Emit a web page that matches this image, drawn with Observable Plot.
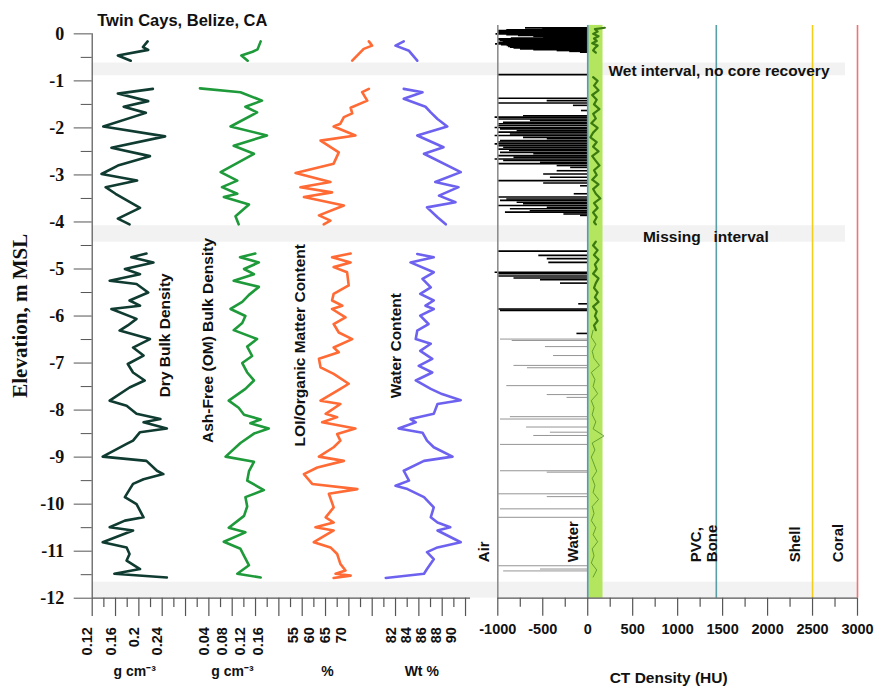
<!DOCTYPE html>
<html><head><meta charset="utf-8">
<script src="https://cdn.jsdelivr.net/npm/d3@7"></script>
<script src="https://cdn.jsdelivr.net/npm/@observablehq/plot@0.6"></script>
<style>
body{margin:0;background:#fff;}
#wrap{position:relative;width:874px;height:689px;overflow:hidden;background:#fff;}
#wrap svg{position:absolute;left:0;top:0;}
</style></head><body><div id="wrap"></div>
<script>
// ---------------- DATA ----------------
const title = "Twin Cays, Belize, CA";
// gray interval bands (elevation, m MSL)
const bandTop = [-0.62, -4.08];
const bandBottom = [-0.89, -4.43];
const coreBaseTop = [-11.66];
const coreBaseBottom = [-12];

const yMajorTicks = [0,-1,-2,-3,-4,-5,-6,-7,-8,-9,-10,-11,-12];
const yMinorTicks = [-0.5,-1.5,-2.5,-3.5,-4.5,-5.5,-6.5,-7.5,-8.5,-9.5,-10.5,-11.5];

// Dry bulk density (g cm-3)
const dryElev = [-0.16,-0.28,-0.34,-0.46,-0.57,null,
 -1.17,-1.27,-1.43,-1.55,-1.68,-1.97,-2.18,-2.42,-2.6,-2.8,-2.98,-3.12,-3.26,-3.4,-3.7,-3.93,-4.05,null,
 -4.67,-4.75,-4.86,-5.0,-5.11,-5.25,-5.32,-5.5,-5.67,-5.78,-5.85,-6.06,-6.2,-6.31,-6.49,-6.67,-6.84,-7.02,-7.2,-7.37,
 -7.52,-7.8,-7.91,-8.08,-8.19,-8.26,-8.39,-8.47,-8.65,-8.72,-8.99,-9.08,-9.29,-9.36,-9.47,-9.57,-9.85,-10.0,-10.28,-10.35,
 -10.49,-10.56,-10.81,-10.92,-11.06,-11.2,-11.38,-11.48,-11.56];
const dryDensity = [0.215,0.207,0.216,0.164,0.186,null,
 0.224,0.164,0.216,0.174,0.212,0.139,0.245,0.153,0.219,0.164,0.136,0.197,0.143,0.160,0.202,0.164,0.184,null,
 0.213,0.187,0.225,0.176,0.202,0.150,0.196,0.216,0.184,0.202,0.153,0.196,0.181,0.167,0.219,0.190,0.208,0.181,0.190,0.210,
 0.184,0.150,0.179,0.196,0.237,0.208,0.248,0.202,0.190,0.179,0.138,0.213,0.231,0.242,0.208,0.190,0.176,0.196,0.208,0.176,
 0.150,0.190,0.138,0.179,0.184,0.179,0.202,0.158,0.248];

// Ash-free (OM) bulk density (g cm-3)
const ashElev = [-0.16,-0.33,-0.38,-0.46,-0.57,null,
 -1.16,-1.24,-1.42,-1.55,-1.67,-1.97,-2.16,-2.38,-2.55,-2.94,-3.12,-3.26,-3.4,-3.47,-3.63,-3.88,-4.05,null,
 -4.67,-4.75,-4.86,-5.0,-5.11,-5.25,-5.38,-5.55,-5.7,-5.85,-6.0,-6.15,-6.3,-6.49,-6.65,-6.85,-7.0,-7.2,-7.37,-7.55,
 -7.8,-7.95,-8.1,-8.2,-8.28,-8.39,-8.5,-8.7,-8.99,-9.1,-9.3,-9.5,-9.7,-9.85,-10.05,-10.25,-10.5,-10.6,-10.8,-10.95,
 -11.1,-11.3,-11.48,-11.56];
const ashFreeDensity = [0.156,0.149,0.138,0.113,0.127,null,
 0.021,0.111,0.159,0.122,0.148,0.089,0.170,0.096,0.141,0.067,0.104,0.070,0.104,0.074,0.130,0.100,0.107,null,
 0.144,0.110,0.152,0.119,0.141,0.096,0.152,0.130,0.115,0.089,0.122,0.115,0.096,0.148,0.126,0.137,0.115,0.126,0.141,0.122,
 0.085,0.107,0.119,0.156,0.133,0.174,0.141,0.111,0.078,0.141,0.130,0.126,0.163,0.122,0.126,0.119,0.085,0.122,0.074,0.111,
 0.119,0.130,0.104,0.156];

// LOI / organic matter content (%)
const loiElev = [-0.16,-0.25,-0.32,-0.39,-0.57,null,
 -1.17,-1.24,-1.42,-1.57,-1.69,-1.77,-1.91,-1.97,-2.16,-2.27,-2.52,-2.76,-2.96,-3.15,-3.26,-3.37,-3.47,-3.65,-3.86,-3.97,-4.05,null,
 -4.67,-4.75,-4.86,-4.96,-5.07,-5.35,-5.53,-5.67,-5.78,-5.85,-6.03,-6.17,-6.35,-6.49,-6.67,-6.77,-6.91,-7.09,-7.23,-7.44,
 -7.55,-7.8,-7.87,-8.08,-8.15,-8.26,-8.39,-8.51,-8.65,-8.79,-8.99,-9.08,-9.22,-9.36,-9.57,-9.68,-9.78,-10.07,-10.28,-10.39,
 -10.49,-10.56,-10.81,-10.92,-11.06,-11.27,-11.41,-11.48,-11.52,-11.57];
const loiContent = [77.3,78.3,75.7,74.7,72.1,null,
 77.3,75.2,76.8,71.6,72.1,69.5,68.4,66.3,73.1,62.2,67.9,66.3,54.4,65.3,55.9,65.8,57.0,69.5,61.7,65.3,63.2,null,
 71.6,65.8,71.6,66.3,70.5,71.0,66.3,65.8,69.0,65.8,70.0,66.3,67.9,72.1,66.3,67.9,61.7,62.2,66.3,71.0,
 68.4,62.2,68.4,63.8,67.4,62.7,73.1,67.4,68.4,66.3,61.7,69.5,61.2,57.0,59.6,73.7,64.8,66.3,63.8,66.3,
 60.6,66.3,60.1,65.3,67.4,68.4,70.0,66.9,71.6,66.3];

// Water content (Wt %)
const waterElev = [-0.16,-0.25,-0.36,-0.57,null,
 -1.17,-1.24,-1.38,-1.55,-1.67,-1.81,-1.97,-2.16,-2.41,-2.55,-2.94,-3.15,-3.26,-3.44,-3.58,-3.69,-3.9,-4.05,null,
 -4.68,-4.75,-4.86,-5.07,-5.21,-5.39,-5.53,-5.67,-5.78,-5.85,-5.99,-6.17,-6.31,-6.49,-6.59,-6.74,-6.91,-7.06,-7.2,-7.37,
 -7.55,-7.66,-7.79,-7.87,-8.08,-8.19,-8.26,-8.39,-8.48,-8.65,-8.79,-8.99,-9.08,-9.29,-9.5,-9.61,-9.68,-9.85,-10.07,-10.28,
 -10.39,-10.49,-10.56,-10.81,-10.92,-11.02,-11.17,-11.38,-11.48,-11.57];
const waterContent = [83.1,82.0,83.8,84.9,null,
 83.1,85.6,83.1,86.0,86.7,87.6,88.9,84.9,88.4,85.8,90.7,87.3,90.4,87.8,90.0,86.2,87.6,88.7,null,
 84.9,87.1,84.0,87.1,85.6,86.7,85.3,87.1,86.0,87.1,85.3,86.4,84.9,84.7,86.7,85.3,86.9,85.1,86.9,84.7,
 86.7,88.2,90.7,87.6,87.1,84.0,84.7,82.4,85.6,86.2,87.1,89.6,85.8,83.1,83.8,82.0,83.6,85.8,87.1,86.7,
 87.6,89.3,87.6,90.7,87.6,86.2,87.1,86.2,85.8,80.7];

// tick labels of the composite bottom axis
const dryTicks = [0.12, 0.16, 0.2, 0.24];
const ashTicks = [0.04, 0.08, 0.12, 0.16];
const loiTicks = [55, 60, 65, 70];
const waterTicks = [82, 84, 86, 88, 90];

// CT density panel (HU)
const ctMajorTicks = [-1000,-500,0,500,1000,1500,2000,2500,3000];
const ctMinorTicks = [-750,-250,250,750,1250,1750,2250,2750];
const ctRefHU = [-1000, 0, 1430, 2500, 3000];
const ctRefNames = ["Air", "Water", "PVC,\nBone", "Shell", "Coral"];
const ctRefColors = ["#8e8e8e", "#5b8ee0", "#5a9ea6", "#f3cf1c", "#f07474"];
const sedimentBand = [0, 170];
// minimum HU per slice (gas voids), dense upper core
const ctMinElevUpper = [0.128,0.11,0.098,0.085,0.07,0.052,0.034,0.017,0,-0.018,-0.036,-0.053,-0.07,-0.088,-0.106,-0.124,-0.142,-0.16,-0.177,-0.195,-0.213,-0.231,-0.249,-0.266,-0.284,-0.302,-0.32,-0.338,-0.355,-0.372,-0.39,
 -0.866,
 -1.37,-1.42,-1.47,-1.52,-1.63,-1.74,-1.77,-1.81,-1.84,-1.88,-1.91,-1.95,-1.99,-2.02,-2.06,-2.09,-2.13,-2.16,-2.2,-2.23,-2.27,-2.3,-2.34,-2.38,-2.41,-2.45,-2.48,-2.52,-2.55,-2.59,-2.62,-2.66,-2.69,-2.73,-2.76,-2.8,-2.84,-2.91,-2.98,-3.05,-3.12,-3.17,-3.23,-3.4,-3.47,-3.51,-3.54,-3.58,-3.61,-3.65,-3.69,-3.72,-3.76,-3.79,-3.83,-3.86,
 -4.62,-4.71,-4.78,-4.86,-5.07,-5.1,-5.15,-5.19,-5.23,-5.3,-5.74,-5.85,-5.88,-6.37];
const ctMinHUUpper = [-692,-500,-270,-900,-992,-1000,-1000,-980,-1020,-900,-770,-600,-490,-850,-1000,-1000,-970,-940,-1000,-1000,-1025,-960,-896,-880,-859,-820,-748,-600,-340,-200,-81,
 -1000,
 -1000,-451,-995,-159,-70,-714,-1030,-1000,-637,-937,-990,-1000,-1030,-970,-785,-1000,-860,-1030,-714,-450,-970,-1000,-1030,-990,-935,-1000,-870,-970,-600,-1000,-820,-1030,-935,-525,-990,-340,-190,-340,-490,-415,-1000,-490,-80,-150,-990,-900,-970,-785,-714,-1000,-450,-860,-640,-915,-265,-80,
 -1000,-544,-450,-433,-1030,-1000,-1000,-820,-525,-303,-100,-990,-970,-120];
const ctMinElevLower = [-6.49,-6.52,-6.65,-6.84,-7.05,-7.1,-7.48,-7.67,-7.73,-8.14,-8.19,-8.36,-8.47,-8.54,-8.73,-9.29,-9.32,-9.78,-9.84,-10.1,-10.28,-11.31,-11.38,-11.42];
const ctMinHULower = [-970,-840,-470,-380,-820,-670,-900,-450,-230,-860,-970,-680,-415,-600,-970,-970,-450,-990,-450,-970,-990,-990,-525,-935];
// mean sediment HU per slice
const ctMeanElevUpper = [0.13,0.1,0.05,0.0,-0.05,-0.1,-0.15,-0.2,-0.25,-0.3,-0.35,-0.4,null,
 -0.92,-1.0,-1.1,-1.2,-1.3,-1.4,-1.5,-1.6,-1.7,-1.8,-1.9,-2.0,-2.1,-2.2,-2.3,-2.4,-2.5,-2.6,-2.7,-2.8,-2.9,-3.0,-3.1,-3.2,-3.3,-3.4,-3.5,-3.6,-3.7,-3.8,-3.9,-4.0,-4.05,null,
 -4.42,-4.5,-4.6,-4.7,-4.8,-4.9,-5.0,-5.1,-5.2,-5.3,-5.4,-5.5,-5.6,-5.7,-5.8,-5.9,-6.0,-6.1,-6.2,-6.3];
const ctMeanHUUpper = [190,80,110,60,120,70,100,50,110,80,60,90,null,
 60,110,70,120,50,100,70,130,60,90,40,110,60,30,100,60,120,50,90,130,70,100,50,120,60,90,140,70,110,60,100,70,90,null,
 90,60,110,70,120,80,100,60,120,90,70,110,80,120,60,100,80,110,70,90];
const ctMeanElevLower = [-6.3,-6.45,-6.6,-6.75,-6.9,-7.05,-7.2,-7.35,-7.5,-7.65,-7.8,-7.95,-8.1,-8.25,-8.4,-8.55,-8.7,-8.85,-9.0,-9.15,-9.3,-9.45,-9.6,-9.75,-9.9,-10.05,-10.2,-10.35,-10.5,-10.65,-10.8,-10.95,-11.1,-11.25,-11.4,-11.55];
const ctMeanHULower = [60,40,90,50,70,130,40,80,60,110,40,70,50,90,60,180,50,80,40,70,100,50,80,60,120,50,70,40,90,60,110,50,70,40,100,60];

// ---------------- LAYOUT ----------------
const W = 874, H = 689;
const sans = "'Liberation Sans', Arial, Helvetica, sans-serif";
const serif = "'Liberation Serif', 'Times New Roman', serif";
const Yscale = {domain: [-12, 0.18], range: [597.7, 24.9]};
const common = {width: W, height: H, marginTop: 24.9, marginBottom: 91.3,
  style: {background: "transparent", fontFamily: sans, overflow: "visible"}};
const axisGray = "#555";

const rows = (e, v) => e.map((d, i) => ({e: d, v: v[i]}));
const wrap = document.getElementById("wrap");
const add = (p) => wrap.appendChild(p);

// base: bands + elevation axis + title
add(Plot.plot({...common, marginLeft: 91.7, marginRight: 29,
  y: Yscale,
  marks: [
    Plot.rect(bandTop.map((t, i) => ({t, b: bandBottom[i]})), {y1: "t", y2: "b", fill: "#f2f2f2"}),
    Plot.axisY({ticks: yMajorTicks, tickSize: 18, tickPadding: 10, tickFormat: d => String(d), stroke: axisGray, fill: "#111",
      fontSize: 18, fontWeight: "bold", fontFamily: serif, label: null}),
    Plot.axisY({ticks: yMinorTicks, tickSize: 11, tickFormat: () => "", stroke: axisGray, label: null}),
    Plot.text(["Elevation, m MSL"], {frameAnchor: "left", textAnchor: "middle", dx: -72, dy: 4, rotate: -90, fontSize: 21, fontWeight: "bold", fontFamily: serif, fill: "#111"}),
    Plot.text([title], {frameAnchor: "top-left", dx: 5, dy: -5, lineAnchor: "middle", textAnchor: "start", fontSize: 16.5, fontWeight: "bold", fill: "#111"})
  ]}));
add(Plot.plot({...common, marginLeft: 91.7, marginRight: 17,
  y: {...Yscale, axis: null},
  marks: [Plot.rect(coreBaseTop.map((t, i) => ({t, b: coreBaseBottom[i]})), {y1: "t", y2: "b", fill: "#f2f2f2"})]}));

// CT density panel
const ctMarks = [
  Plot.rect([sedimentBand], {x1: d => d[0], x2: d => d[1], y1: -12, y2: 0.18, fill: "#b3e65e"}),
  Plot.ruleY(rows(ctMinElevUpper, ctMinHUUpper), {y: "e", x1: "v", x2: 0, stroke: "#000", strokeWidth: 1.6}),
  Plot.ruleY(rows(ctMinElevLower, ctMinHULower), {y: "e", x1: "v", x2: 0, stroke: "#7a7a7a", strokeWidth: 0.8}),
  Plot.line(rows(ctMeanElevUpper, ctMeanHUUpper), {x: "v", y: "e", stroke: "#3a7a10", strokeWidth: 2.2}),
  Plot.line(rows(ctMeanElevLower, ctMeanHULower), {x: "v", y: "e", stroke: "#4f8f25", strokeWidth: 0.8}),
];
const refDx = [-9, -10, 1, -12.5, -15];
ctRefHU.forEach((hu, i) => {
  ctMarks.push(Plot.ruleX([hu], {y1: -12, y2: 0.18, stroke: ctRefColors[i], strokeWidth: 1.6}));
  ctMarks.push(Plot.text([ctRefNames[i]], {x: hu, frameAnchor: "bottom", dx: refDx[i], dy: -36, rotate: -90, textAnchor: "start",
    lineHeight: 1.1, fontSize: 15, fontWeight: "bold", fill: "#111"}));
});
ctMarks.push(
  Plot.ruleY([-12], {x1: -1000, x2: 3000, stroke: axisGray, strokeWidth: 1.2}),
  Plot.axisX({ticks: ctMajorTicks, tickSize: 18, tickFormat: () => "", stroke: axisGray, strokeWidth: 1.2, label: null}),
  Plot.axisX({ticks: ctMinorTicks, tickSize: 9, tickFormat: () => "", stroke: axisGray, strokeWidth: 1.2, label: null}),
  Plot.text(ctMajorTicks, {x: d => d, text: d => String(d), frameAnchor: "bottom", dy: 36, fontSize: 14.5, fontWeight: "bold", fill: "#111"}),
  Plot.text(["CT Density (HU)"], {x: 900, frameAnchor: "bottom", dy: 85, fontSize: 15.5, fontWeight: "bold", fill: "#111"}),
  Plot.text(["Wet interval, no core recovery"], {x: 230, y: -0.78, textAnchor: "start", fontSize: 15.5, fontWeight: "bold", fill: "#111"}),
  Plot.text(["Missing\u00a0\u00a0\u00a0interval"], {x: 614, y: -4.33, textAnchor: "start", fontSize: 15.5, fontWeight: "bold", fill: "#111"})
);
add(Plot.plot({...common, marginLeft: 497.3, marginRight: 17,
  x: {domain: [-1000, 3000], range: [497.3, 857]},
  y: {...Yscale, axis: null},
  marks: ctMarks}));

// log tracks
function track(o) {
  const marks = [
    Plot.line(rows(o.elev, o.vals), {x: "v", y: "e", stroke: o.color, strokeWidth: 2.6, strokeLinejoin: "round"}),
    Plot.text(o.ticks, {x: d => d, text: d => String(d), frameAnchor: "bottom", dy: 29, rotate: -90, textAnchor: "end",
      fontSize: 14.5, fontWeight: "bold", fill: "#111"}),
    Plot.text([o.unit], {x: o.unitX, frameAnchor: "bottom", dy: 78, fontSize: 14, fontWeight: "bold", fill: "#111"}),
    Plot.text([o.label], {x: o.labelX, y: o.labelY, rotate: -90, fontSize: 15.5, fontWeight: "bold", fill: "#111"}),
    ...(o.extra || [])
  ];
  add(Plot.plot({...common, marginLeft: 0, marginRight: 0,
    x: {domain: o.domain, range: o.range, axis: null},
    y: {...Yscale, axis: null},
    marks}));
}

// composite bottom axis ticks (in dry-density units, 0.02 apart)
const compositeMajor = d3.range(0, 17).map(k => 0.12 + 0.04 * k);
const compositeMinor = d3.range(0, 16).map(k => 0.14 + 0.04 * k);
track({domain: [0.12, 0.24], range: [91.7, 161.7], elev: dryElev, vals: dryDensity, color: "#0f3b31",
  ticks: dryTicks, unit: "g cm\u207B\u00B3", unitX: 0.193, label: "Dry Bulk Density", labelX: 0.2457, labelY: -6.41,
  extra: [
    Plot.ruleX([0.12], {y1: -12, y2: 0, stroke: axisGray, strokeWidth: 1.2}),
    Plot.ruleY([-12], {x1: 0.12, x2: 0.7686, stroke: axisGray, strokeWidth: 1.2}),
    Plot.ruleX(compositeMajor, {x: d => d, y1: -12, y2: -12.39, stroke: axisGray, strokeWidth: 1.2}),
    Plot.ruleX(compositeMinor, {x: d => d, y1: -12, y2: -12.2, stroke: axisGray, strokeWidth: 1.2})
  ]});
track({domain: [0.04, 0.16], range: [208, 262], elev: ashElev, vals: ashFreeDensity, color: "#1f9a3a",
  ticks: ashTicks, unit: "g cm\u207B\u00B3", unitX: 0.0933, label: "Ash-Free (OM) Bulk Density", labelX: 0.04, labelY: -6.52});
track({domain: [55, 70], range: [297, 345], elev: loiElev, vals: loiContent, color: "#ff6a35",
  ticks: loiTicks, unit: "%", unitX: 64.4, label: "LOI/Organic Matter Content", labelX: 55.9, labelY: -6.62});
track({domain: [82, 90], range: [395, 455], elev: waterElev, vals: waterContent, color: "#6d62ef",
  ticks: waterTicks, unit: "Wt %", unitX: 85.5, label: "Water Content", labelX: 82.13, labelY: -6.63});
</script></body></html>
